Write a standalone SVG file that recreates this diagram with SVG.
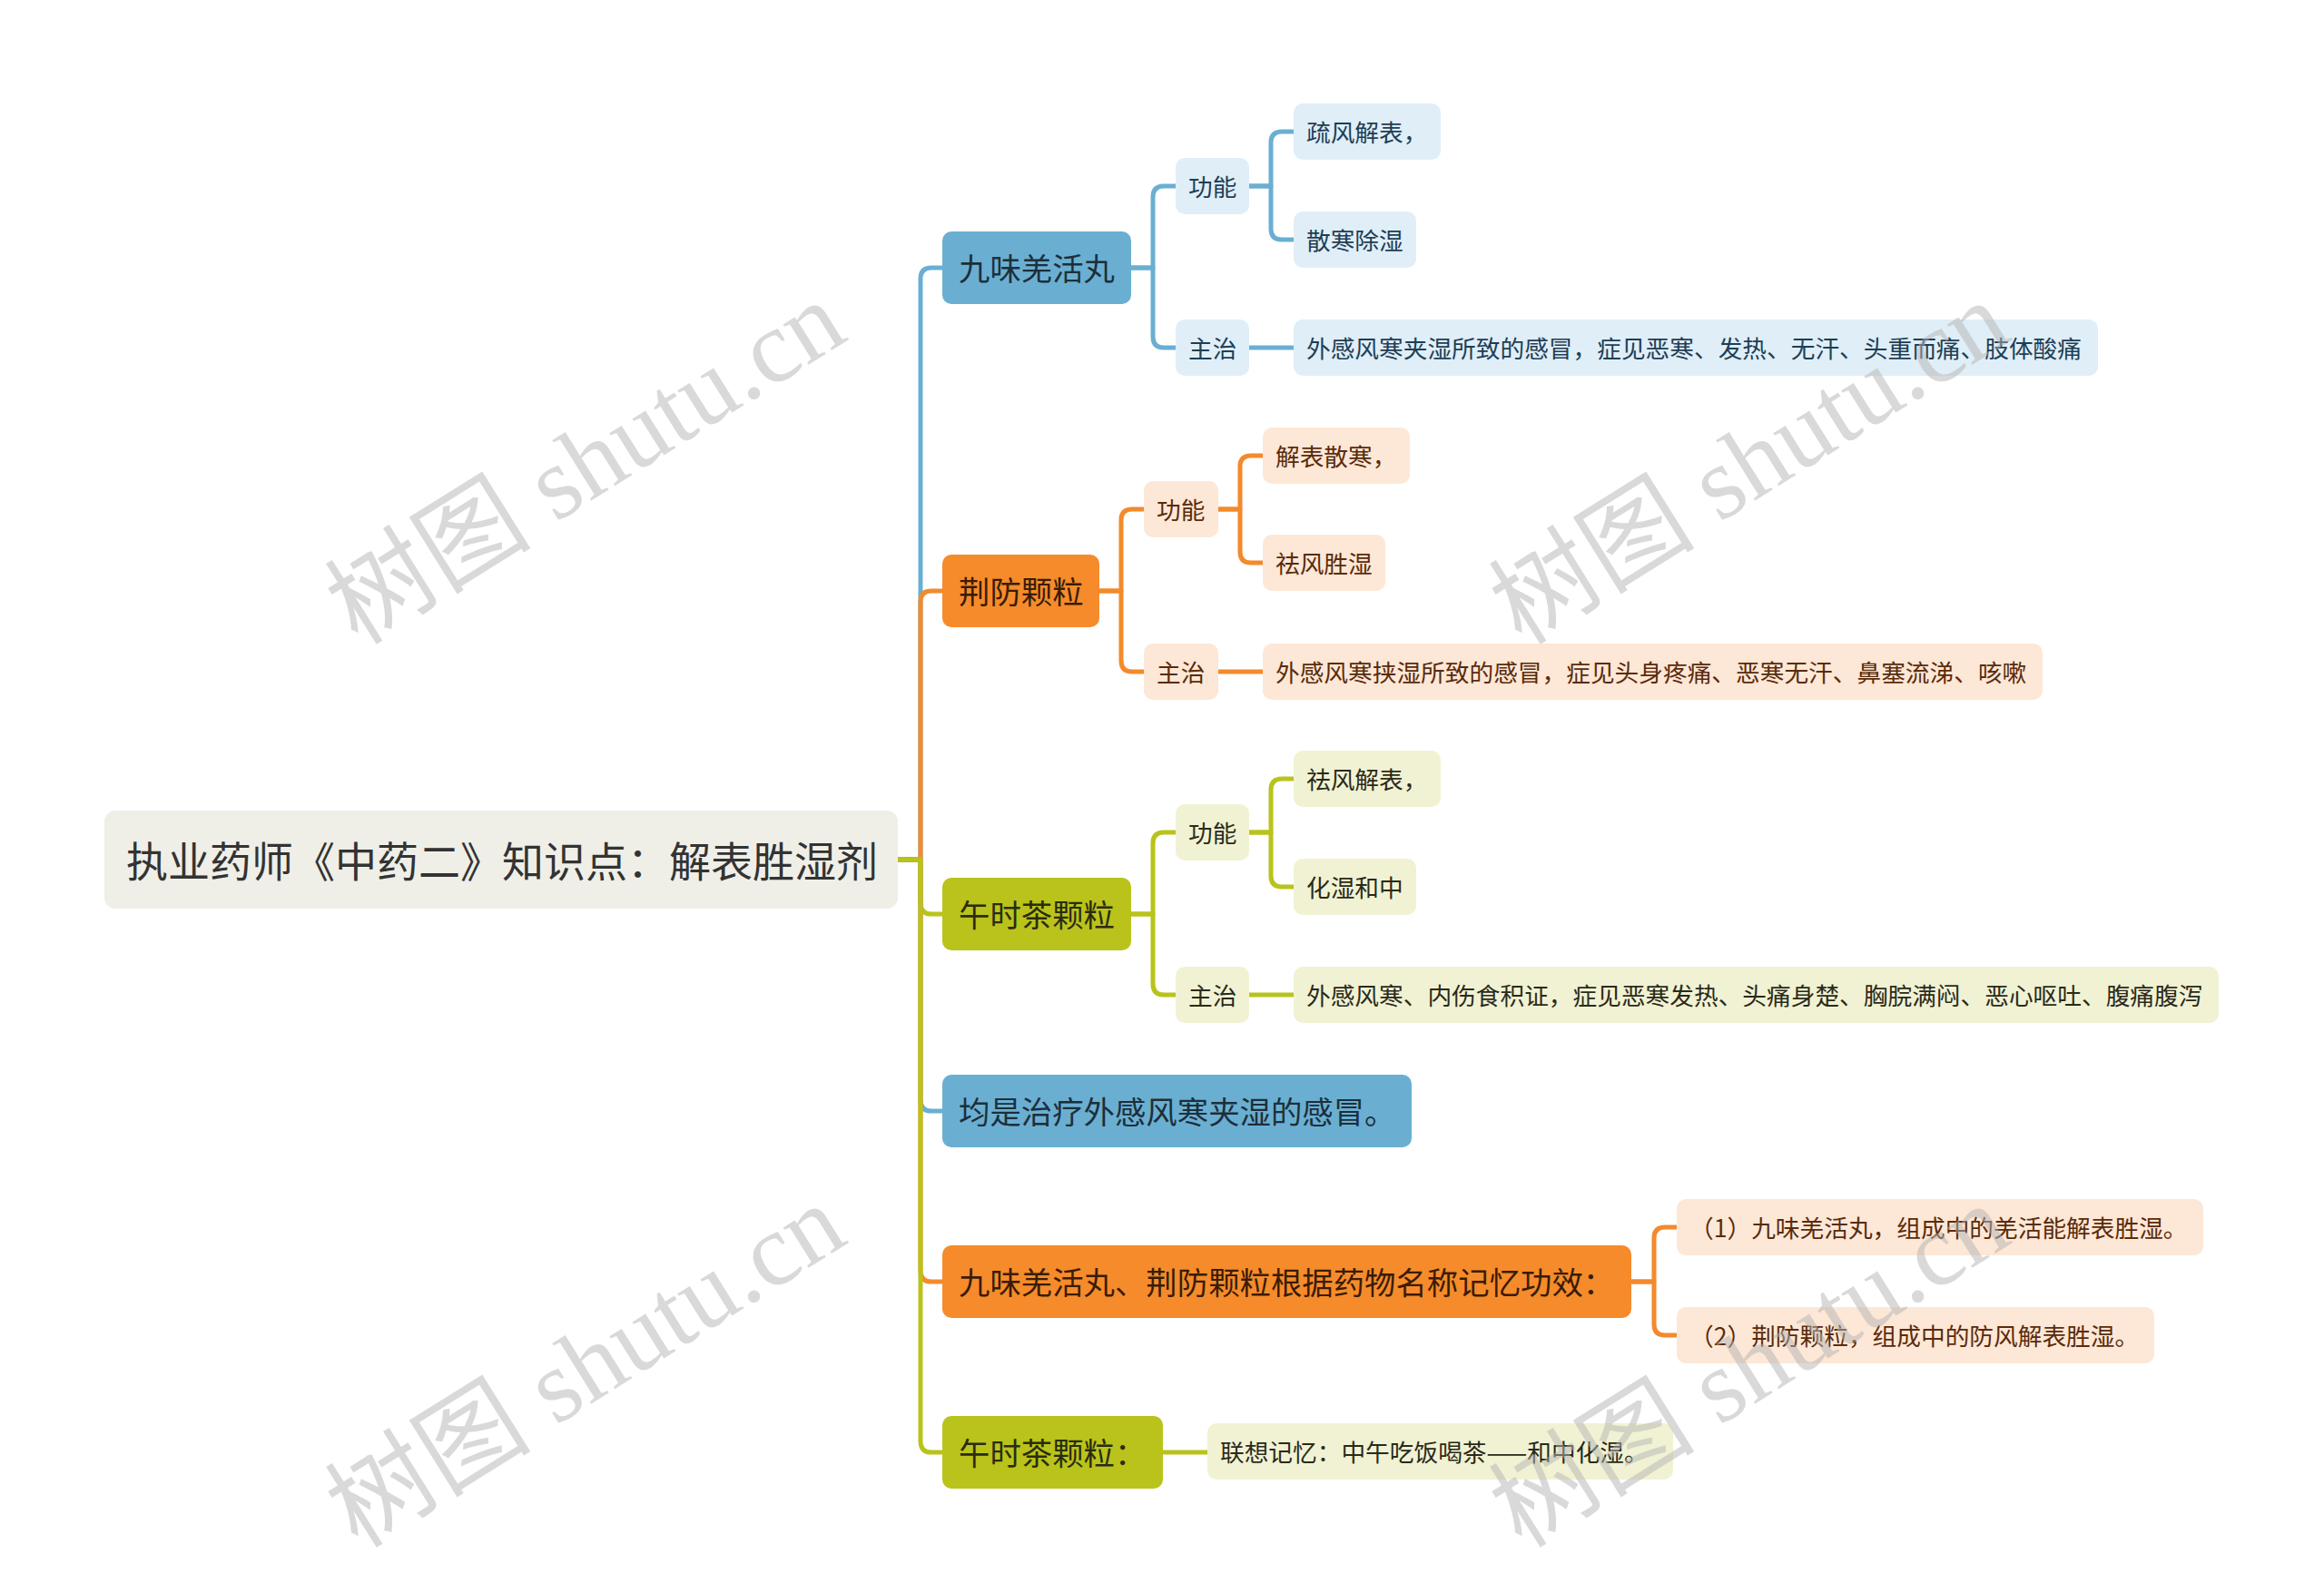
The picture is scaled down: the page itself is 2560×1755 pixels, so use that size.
<svg xmlns="http://www.w3.org/2000/svg" width="2560" height="1755" viewBox="0 0 2560 1755">
<style>
text{font-family:"Noto Sans CJK SC","Noto Sans",sans-serif;dominant-baseline:central}
.root rect{fill:#efefe7}
.root text{font-size:46px;fill:#333333}
.l1 text{font-size:34.4px}
.l2 text{font-size:26.7px}
.bB{fill:#6aafd2}.bO{fill:#f58b2b}.bG{fill:#b9c31b}
.lB{fill:#e0eef7}.lO{fill:#fde7d6}.lG{fill:#f1f2d3}
.tB{fill:#1c2f3b}.tO{fill:#3a1c06}.tG{fill:#2b2c10}
.sB{fill:#1d3f56}.sO{fill:#5a2b0b}.sG{fill:#2a2a1a}
.c{fill:none;stroke-width:5;stroke-linecap:butt;stroke-linejoin:round}
.cB{stroke:#6aafd2}.cO{stroke:#f38a2c}.cG{stroke:#b9c31b}
.wm{font-family:"Liberation Serif","Noto Sans CJK SC",serif;font-size:114px;fill:#b4b4b4;fill-opacity:0.5;text-anchor:middle}
</style>
<rect width="2560" height="1755" fill="#ffffff"/>
<g id="connectors">
<path class="c cB" d="M989,947 H1014 V307 Q1014,295 1026,295 H1038"/>
<path class="c cO" d="M989,947 H1014 V663 Q1014,651 1026,651 H1038"/>
<path class="c cG" d="M989,947 H1014 V995 Q1014,1007 1026,1007 H1038"/>
<path class="c cB" d="M989,947 H1014 V1212 Q1014,1224 1026,1224 H1038"/>
<path class="c cO" d="M989,947 H1014 V1400 Q1014,1412 1026,1412 H1038"/>
<path class="c cG" d="M989,947 H1014 V1588 Q1014,1600 1026,1600 H1038"/>
<path class="c cB" d="M1246,295 H1270 V217 Q1270,205 1282,205 H1295"/>
<path class="c cB" d="M1246,295 H1270 V371 Q1270,383 1282,383 H1295"/>
<path class="c cB" d="M1376,205 H1400 V157 Q1400,145 1412,145 H1425"/>
<path class="c cB" d="M1376,205 H1400 V252 Q1400,264 1412,264 H1425"/>
<path class="c cB" d="M1376,383 H1425"/>
<path class="c cO" d="M1211,651 H1235 V573 Q1235,561 1247,561 H1260"/>
<path class="c cO" d="M1211,651 H1235 V728 Q1235,740 1247,740 H1260"/>
<path class="c cO" d="M1342,561 H1366 V514 Q1366,502 1378,502 H1391"/>
<path class="c cO" d="M1342,561 H1366 V608 Q1366,620 1378,620 H1391"/>
<path class="c cO" d="M1342,740 H1391"/>
<path class="c cG" d="M1246,1007 H1270 V929 Q1270,917 1282,917 H1295"/>
<path class="c cG" d="M1246,1007 H1270 V1084 Q1270,1096 1282,1096 H1295"/>
<path class="c cG" d="M1376,917 H1400 V870 Q1400,858 1412,858 H1425"/>
<path class="c cG" d="M1376,917 H1400 V965 Q1400,977 1412,977 H1425"/>
<path class="c cG" d="M1376,1096 H1425"/>
<path class="c cO" d="M1797,1412 H1822 V1364 Q1822,1352 1834,1352 H1847"/>
<path class="c cO" d="M1797,1412 H1822 V1459 Q1822,1471 1834,1471 H1847"/>
<path class="c cG" d="M1281,1600 H1330"/>
</g>
<g id="root" class="root"><rect x="115" y="893" width="874" height="108" rx="12"/><text x="139" y="946">执业药师《中药二》知识点：解表胜湿剂</text></g>
<g id="n1" class="l1"><rect class="bB" x="1038" y="255" width="208" height="80" rx="10"/><text class="tB" x="1056" y="294">九味羌活丸</text></g>
<g id="n1a" class="l2"><rect class="lB" x="1295" y="174" width="81" height="62" rx="10"/><text class="sB" x="1309" y="204">功能</text></g>
<g id="n1a1" class="l2"><rect class="lB" x="1425" y="114" width="162" height="62" rx="10"/><text class="sB" x="1439" y="144">疏风解表，</text></g>
<g id="n1a2" class="l2"><rect class="lB" x="1425" y="233" width="135" height="62" rx="10"/><text class="sB" x="1439" y="263">散寒除湿</text></g>
<g id="n1b" class="l2"><rect class="lB" x="1295" y="352" width="81" height="62" rx="10"/><text class="sB" x="1309" y="382">主治</text></g>
<g id="n1b1" class="l2"><rect class="lB" x="1425" y="352" width="886" height="62" rx="10"/><text class="sB" x="1439" y="382">外感风寒夹湿所致的感冒，症见恶寒、发热、无汗、头重而痛、肢体酸痛</text></g>
<g id="n2" class="l1"><rect class="bO" x="1038" y="611" width="173" height="80" rx="10"/><text class="tO" x="1056" y="650">荆防颗粒</text></g>
<g id="n2a" class="l2"><rect class="lO" x="1260" y="530" width="82" height="62" rx="10"/><text class="sO" x="1274" y="560">功能</text></g>
<g id="n2a1" class="l2"><rect class="lO" x="1391" y="471" width="162" height="62" rx="10"/><text class="sO" x="1405" y="501">解表散寒，</text></g>
<g id="n2a2" class="l2"><rect class="lO" x="1391" y="589" width="135" height="62" rx="10"/><text class="sO" x="1405" y="619">祛风胜湿</text></g>
<g id="n2b" class="l2"><rect class="lO" x="1260" y="709" width="82" height="62" rx="10"/><text class="sO" x="1274" y="739">主治</text></g>
<g id="n2b1" class="l2"><rect class="lO" x="1391" y="709" width="859" height="62" rx="10"/><text class="sO" x="1405" y="739">外感风寒挟湿所致的感冒，症见头身疼痛、恶寒无汗、鼻塞流涕、咳嗽</text></g>
<g id="n3" class="l1"><rect class="bG" x="1038" y="967" width="208" height="80" rx="10"/><text class="tG" x="1056" y="1006">午时茶颗粒</text></g>
<g id="n3a" class="l2"><rect class="lG" x="1295" y="886" width="81" height="62" rx="10"/><text class="sG" x="1309" y="916">功能</text></g>
<g id="n3a1" class="l2"><rect class="lG" x="1425" y="827" width="162" height="62" rx="10"/><text class="sG" x="1439" y="857">祛风解表，</text></g>
<g id="n3a2" class="l2"><rect class="lG" x="1425" y="946" width="135" height="62" rx="10"/><text class="sG" x="1439" y="976">化湿和中</text></g>
<g id="n3b" class="l2"><rect class="lG" x="1295" y="1065" width="81" height="62" rx="10"/><text class="sG" x="1309" y="1095">主治</text></g>
<g id="n3b1" class="l2"><rect class="lG" x="1425" y="1065" width="1019" height="62" rx="10"/><text class="sG" x="1439" y="1095">外感风寒、内伤食积证，症见恶寒发热、头痛身楚、胸脘满闷、恶心呕吐、腹痛腹泻</text></g>
<g id="n4" class="l1"><rect class="bB" x="1038" y="1184" width="517" height="80" rx="10"/><text class="tB" x="1056" y="1223">均是治疗外感风寒夹湿的感冒。</text></g>
<g id="n5" class="l1"><rect class="bO" x="1038" y="1372" width="759" height="80" rx="10"/><text class="tO" x="1056" y="1411">九味羌活丸、荆防颗粒根据药物名称记忆功效：</text></g>
<g id="n5a" class="l2"><rect class="lO" x="1847" y="1321" width="580" height="62" rx="10"/><text class="sO" x="1861" y="1351">（1）九味羌活丸，组成中的羌活能解表胜湿。</text></g>
<g id="n5b" class="l2"><rect class="lO" x="1847" y="1440" width="526" height="62" rx="10"/><text class="sO" x="1861" y="1470">（2）荆防颗粒，组成中的防风解表胜湿。</text></g>
<g id="n6" class="l1"><rect class="bG" x="1038" y="1560" width="243" height="80" rx="10"/><text class="tG" x="1056" y="1599">午时茶颗粒：</text></g>
<g id="n6a" class="l2"><rect class="lG" x="1330" y="1568" width="513" height="62" rx="10"/><text class="sG" x="1344" y="1598">联想记忆：中午吃饭喝茶——和中化湿。</text></g>
<g id="watermarks">
<text class="wm" transform="translate(645,510) rotate(-32)">树图 shutu.cn</text>
<text class="wm" transform="translate(1927,510) rotate(-32)">树图 shutu.cn</text>
<text class="wm" transform="translate(645,1505) rotate(-32)">树图 shutu.cn</text>
<text class="wm" transform="translate(1927,1505) rotate(-32)">树图 shutu.cn</text>
</g>
</svg>
